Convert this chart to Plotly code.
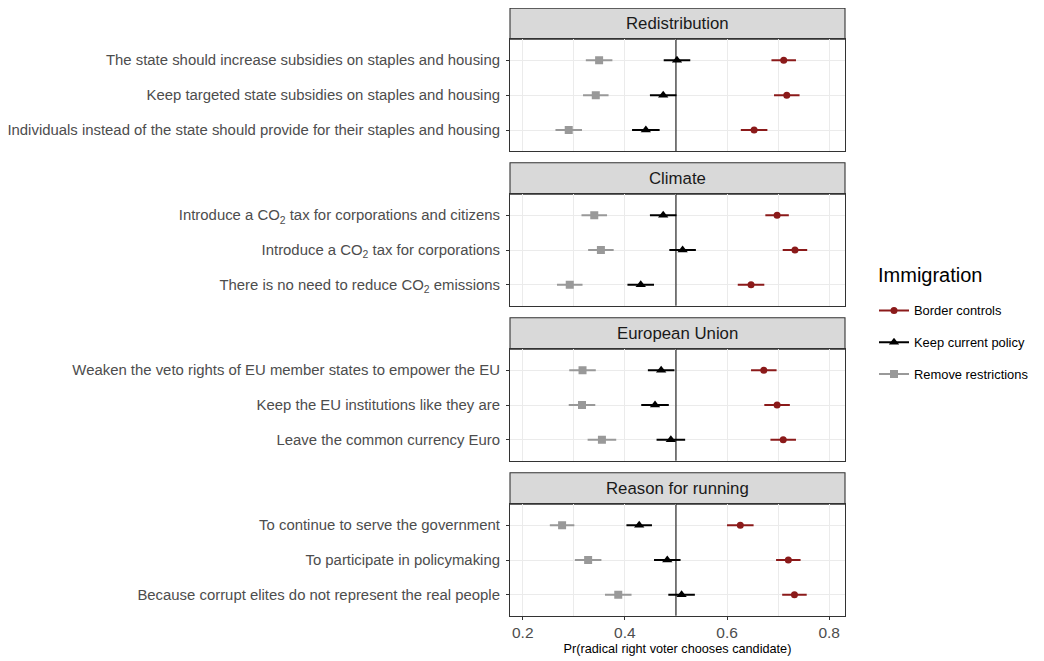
import plotly.graph_objects as go

# page is offset by the browser's 8px body margin; figure coordinates = page - 8
OFF = 8
W, H = 1036, 653
ML, MR, MT, MB = 502, 199, 0, 45

facets = ["Redistribution", "Climate", "European Union", "Reason for running"]
items = [
    ["The state should increase subsidies on staples and housing",
     "Keep targeted state subsidies on staples and housing",
     "Individuals instead of the state should provide for their staples and housing"],
    ["Introduce a CO<sub>2</sub> tax for corporations and citizens",
     "Introduce a CO<sub>2</sub> tax for corporations",
     "There is no need to reduce CO<sub>2</sub> emissions"],
    ["Weaken the veto rights of EU member states to empower the EU",
     "Keep the EU institutions like they are",
     "Leave the common currency Euro"],
    ["To continue to serve the government",
     "To participate in policymaking",
     "Because corrupt elites do not represent the real people"],
]

series_names = ["Border controls", "Keep current policy", "Remove restrictions"]

border_est = [[0.711, 0.717, 0.653], [0.698, 0.733, 0.647], [0.672, 0.698, 0.710], [0.626, 0.720, 0.732]]
border_err = [[0.024, 0.025, 0.026], [0.023, 0.024, 0.026], [0.025, 0.025, 0.025], [0.026, 0.024, 0.024]]
keep_est = [[0.502, 0.475, 0.441], [0.475, 0.513, 0.431], [0.471, 0.459, 0.490], [0.428, 0.483, 0.511]]
keep_err = [[0.026, 0.026, 0.027], [0.026, 0.026, 0.026], [0.026, 0.027, 0.028], [0.025, 0.026, 0.026]]
remove_est = [[0.3495, 0.343, 0.290], [0.340, 0.353, 0.292], [0.317, 0.316, 0.355], [0.277, 0.328, 0.387]]
remove_err = [[0.026, 0.025, 0.026], [0.025, 0.025, 0.025], [0.026, 0.026, 0.028], [0.024, 0.026, 0.026]]

x_ticks = [0.2, 0.4, 0.6, 0.8]
x_range = [0.175, 0.831]
ref_line = 0.5

colors = ["#8B1A1A", "#000000", "#999999"]
symbols = ["circle", "triangle-up", "square"]
msizes = [7, 9, 8]

est_all = [border_est, keep_est, remove_est]
err_all = [border_err, keep_err, remove_err]

# page-pixel layout of strips / panels
strip_tops = [8.3, 162.7, 317.7, 472.7]
panel_tops = [39.3, 194.3, 349.3, 504.3]
panel_bots = [151.0, 305.7, 460.7, 615.7]

def fy(px):
    return (H - MB - (px - OFF)) / (H - MT - MB)

def fx(px):
    return ((px - OFF) - ML) / (W - ML - MR)

fig = go.Figure()
shapes = []
annotations = []
layout_axes = {}

for i, facet in enumerate(facets):
    n = i + 1
    xa = "x" if n == 1 else f"x{n}"
    ya = "y" if n == 1 else f"y{n}"
    for s in range(3):
        fig.add_trace(go.Scatter(
            x=est_all[s][i], y=items[i], xaxis=xa, yaxis=ya,
            mode="markers",
            marker=dict(color=colors[s], symbol=symbols[s], size=msizes[s]),
            error_x=dict(type="data", array=err_all[s][i], color=colors[s],
                         thickness=2, width=0),
            showlegend=False, name=series_names[s], legendgroup=series_names[s],
        ))
    xkey = "xaxis" if n == 1 else f"xaxis{n}"
    ykey = "yaxis" if n == 1 else f"yaxis{n}"
    xax = dict(
        domain=[0, 1], range=x_range, anchor=ya,
        tickvals=x_ticks, ticktext=[f"{v:.1f}" for v in x_ticks],
        showticklabels=(n == 4), ticks="outside" if n == 4 else "",
        ticklen=3, tickcolor="#333333",
        tickfont=dict(size=15.5, color="#4D4D4D"),
        showgrid=True, gridcolor="#EBEBEB", gridwidth=1.1,
        minor=dict(dtick=0.1, tick0=0.1, showgrid=True, gridcolor="#EBEBEB", gridwidth=0.6),
        showline=True, mirror=True, linecolor="#333333", linewidth=1.1,
        zeroline=False,
    )
    if n != 1:
        xax["matches"] = "x"
    if n == 4:
        xax["title"] = dict(text="Pr(radical right voter chooses candidate)",
                            font=dict(size=12.7, color="#000000"), standoff=3)
    layout_axes[xkey] = xax
    layout_axes[ykey] = dict(
        domain=[fy(panel_bots[i]), fy(panel_tops[i])], anchor=xa,
        type="category", categoryorder="array", categoryarray=items[i][::-1],
        range=[-0.6, 2.6],
        ticks="outside", ticklen=3, tickcolor="#333333",
        ticklabelstandoff=3,
        tickfont=dict(size=14.9, color="#4D4D4D"),
        showgrid=True, gridcolor="#EBEBEB", gridwidth=1.1,
        showline=True, mirror=True, linecolor="#333333", linewidth=1.1,
        zeroline=False,
    )
    # strip
    shapes.append(dict(type="rect", xref="paper", yref="paper",
                       x0=0, x1=1, y0=fy(panel_tops[i]), y1=fy(strip_tops[i]),
                       fillcolor="#D9D9D9", line=dict(color="#333333", width=1.1),
                       layer="below"))
    annotations.append(dict(text=facet, xref="paper", yref="paper",
                            x=0.5, y=(fy(panel_tops[i]) + fy(strip_tops[i])) / 2,
                            showarrow=False, font=dict(size=16.8, color="#1A1A1A"),
                            xanchor="center", yanchor="middle"))
    # reference line
    shapes.append(dict(type="line", xref=xa, yref=f"{ya} domain",
                       x0=ref_line, x1=ref_line, y0=0, y1=1,
                       line=dict(color="#000000", width=1)))

# legend title as annotation
annotations.append(dict(text="Immigration", xref="paper", yref="paper",
                        x=fx(876), y=fy(275), xanchor="left", yanchor="middle",
                        showarrow=False, font=dict(size=20, color="#000000")))

# legend entries
for s in range(3):
    fig.add_trace(go.Scatter(
        x=[None], y=[None], mode="lines+markers", name=series_names[s],
        legendgroup=series_names[s],
        line=dict(color=colors[s], width=2),
        marker=dict(color=colors[s], symbol=symbols[s], size=msizes[s]),
        showlegend=True,
    ))

fig.update_layout(
    width=W, height=H,
    margin=dict(l=ML, r=MR, t=MT, b=MB),
    paper_bgcolor="white", plot_bgcolor="white",
    font=dict(family="Liberation Sans, Arial, sans-serif", color="#000000"),
    shapes=shapes, annotations=annotations,
    legend=dict(
        x=fx(874), xanchor="left", y=fy(295.5), yanchor="top",
        font=dict(size=12.9, color="#000000"),
        tracegroupgap=12, itemwidth=30,
        bgcolor="rgba(0,0,0,0)",
    ),
    **layout_axes,
)

fig.write_html("out.html")
